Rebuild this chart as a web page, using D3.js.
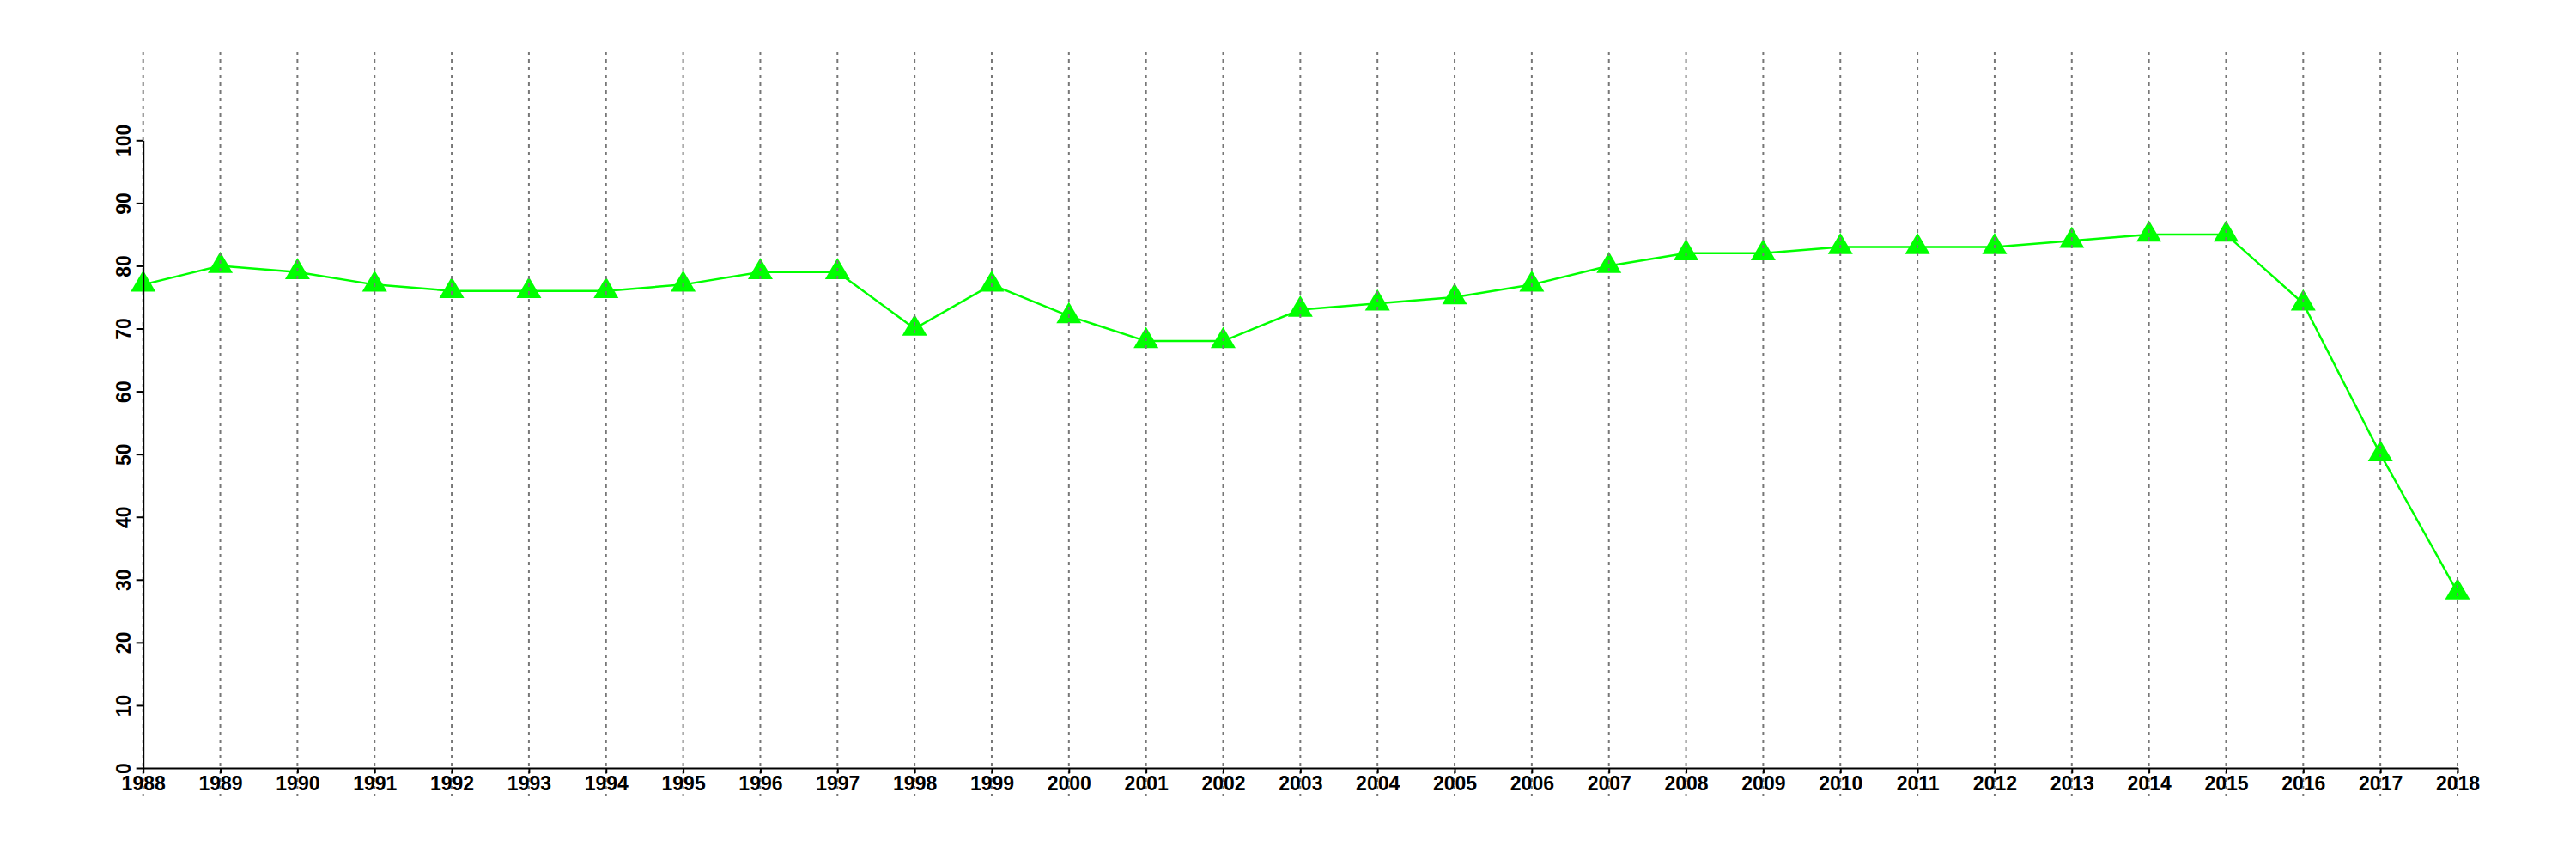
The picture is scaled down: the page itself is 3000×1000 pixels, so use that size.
<!DOCTYPE html>
<html>
<head>
<meta charset="utf-8">
<script src="https://cdn.jsdelivr.net/npm/d3@7"></script>
<style>
  html, body { margin: 0; padding: 0; background: #fff; }
  svg { display: block; }
  text { font-family: "Liberation Sans", Arial, Helvetica, sans-serif; font-weight: bold; font-size: 23px; }
</style>
</head>
<body>
<script>
const years = [1988,1989,1990,1991,1992,1993,1994,1995,1996,1997,1998,1999,2000,2001,2002,2003,2004,2005,2006,2007,2008,2009,2010,2011,2012,2013,2014,2015,2016,2017,2018];
const values = [77,80,79,77,76,76,76,77,79,79,70,77,72,68,68,73,74,75,77,80,82,82,83,83,83,84,85,85,74,50,28];
const yTicks = [0,10,20,30,40,50,60,70,80,90,100];

const W = 3000, H = 1000;
const svg = d3.select("body").append("svg").attr("width", W).attr("height", H);

const x = d3.scaleLinear().domain([1988, 2018]).range([166.7, 2862]);
const y = d3.scaleLinear().domain([0, 100]).range([894, 163.3]);

// line
const line = d3.line().x((d, i) => x(years[i])).y(d => y(d));
svg.append("path").datum(values)
  .attr("d", line)
  .attr("fill", "none")
  .attr("stroke", "#00ff00")
  .attr("stroke-width", 2.5);

// triangles (centroid at data point)
const r = 16.5;
const hw = 14.5;
const tri = `M0,${-r}L${hw},${r/2}L${-hw},${r/2}Z`;
svg.append("g").selectAll("path").data(values).join("path")
  .attr("transform", (d, i) => `translate(${x(years[i])},${y(d)})`)
  .attr("d", tri)
  .attr("fill", "#00ff00");

// vertical dashed gridlines
svg.append("g").selectAll("line").data(years).join("line")
  .attr("x1", d => x(d)).attr("x2", d => x(d))
  .attr("y1", 60).attr("y2", 927)
  .attr("stroke", "#777")
  .attr("stroke-width", 2)
  .attr("stroke-dasharray", "4,5");

const fontStyle = sel => sel
  .style("font-family", '"Liberation Sans", Arial, Helvetica, sans-serif')
  .style("font-weight", "bold")
  .style("font-size", "23px")
  .attr("fill", "#000");

// x axis
const xAxis = d3.axisBottom(x).tickValues(years).tickFormat(d3.format("d")).tickSize(6).tickSizeOuter(0);
const gx = svg.append("g").attr("transform", `translate(0,${y(0)})`).call(xAxis);
gx.attr("font-size", null).attr("font-family", null);
gx.select(".domain").attr("stroke", "#000").attr("stroke-width", 2);
gx.selectAll(".tick line").attr("stroke", "#000").attr("stroke-width", 2);
gx.selectAll(".tick text")
  .attr("y", 0).attr("dy", null)
  .attr("transform", "translate(0,26)")
  .call(fontStyle);

// y axis
const yAxis = d3.axisLeft(y).tickValues(yTicks).tickFormat(d3.format("d")).tickSize(8).tickSizeOuter(0);
const gy = svg.append("g").attr("transform", `translate(${x(1988)},0)`).call(yAxis);
gy.attr("font-size", null).attr("font-family", null);
gy.select(".domain").attr("stroke", "#000").attr("stroke-width", 2);
gy.selectAll(".tick line").attr("stroke", "#000").attr("stroke-width", 2);
gy.selectAll(".tick text")
  .attr("x", 0).attr("dy", null)
  .attr("text-anchor", "middle")
  .attr("transform", "translate(-15,0) rotate(-90)")
  .call(fontStyle);
</script>
</body>
</html>
